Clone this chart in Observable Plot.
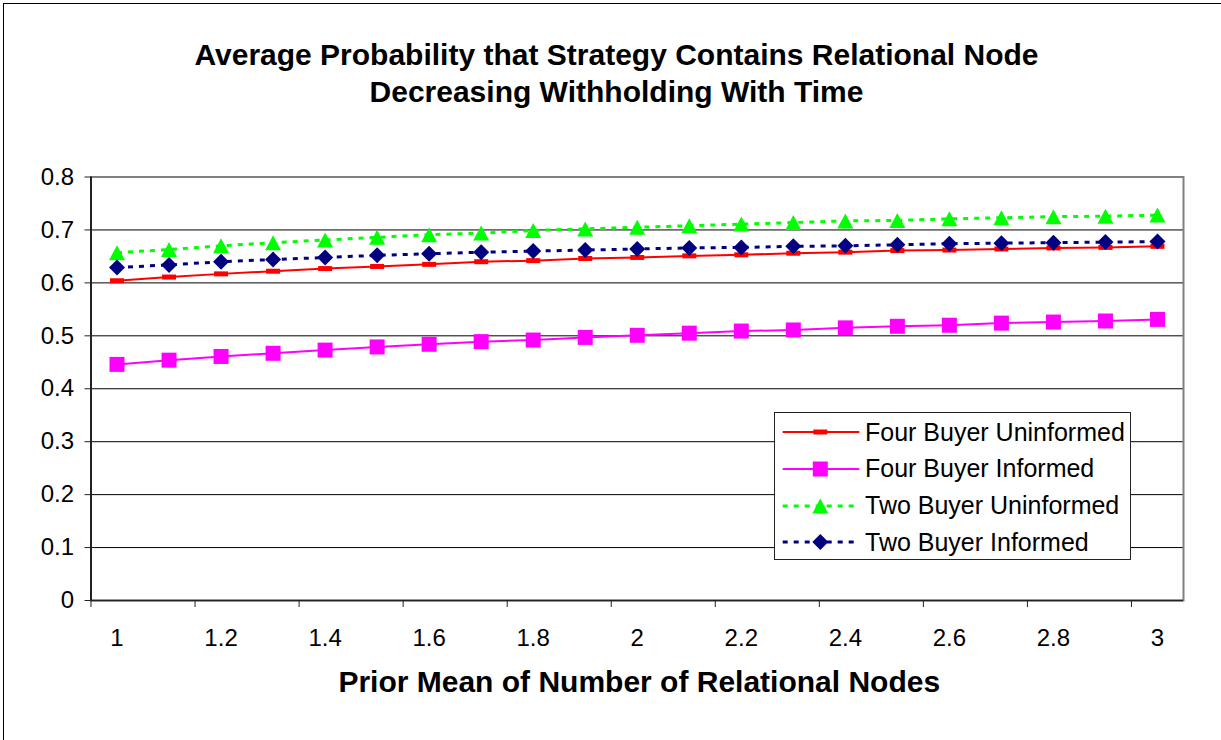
<!DOCTYPE html>
<html><head><meta charset="utf-8">
<script src="https://cdn.jsdelivr.net/npm/d3@7"></script>
<script src="https://cdn.jsdelivr.net/npm/@observablehq/plot@0.6"></script>
<style>
body{margin:0;background:#fff;font-family:"Liberation Sans",Arial,sans-serif;}
#wrap{position:relative;width:1221px;height:740px;overflow:hidden;background:#fff;}
#border{position:absolute;left:3px;top:3px;width:1300px;height:800px;border-top:1.5px solid #000;border-left:1.5px solid #000;pointer-events:none;z-index:5;}
#title{height:128px;box-sizing:border-box;padding-top:36px;padding-left:12px;text-align:center;font-weight:bold;font-size:30px;line-height:37px;color:#000;}
#legend{position:absolute;left:774px;top:412px;width:355px;height:145px;border:1px solid #222;background:#fff;padding-top:1px;box-sizing:content-box;}
.row{display:flex;align-items:center;height:36.67px;font-size:25px;color:#000;}
.row svg{flex:none;}
</style></head><body>
<div id="wrap">
<div id="title">Average Probability that Strategy Contains Relational Node<br>Decreasing Withholding With Time</div>
<div id="chart"></div>
<div id="legend"></div>
<div id="border"></div>
</div>
<script>
// ---- data ----
const xValues = [1.0, 1.1, 1.2, 1.3, 1.4, 1.5, 1.6, 1.7, 1.8, 1.9, 2.0, 2.1, 2.2, 2.3, 2.4, 2.5, 2.6, 2.7, 2.8, 2.9, 3.0];
const xTickLabels = [1, 1.2, 1.4, 1.6, 1.8, 2, 2.2, 2.4, 2.6, 2.8, 3];
const yTicks = [0, 0.1, 0.2, 0.3, 0.4, 0.5, 0.6, 0.7, 0.8];
const seriesNames = ["Four Buyer Uninformed", "Four Buyer Informed", "Two Buyer Uninformed", "Two Buyer Informed"];
const fourUninformed = [0.604, 0.611, 0.617, 0.622, 0.627, 0.631, 0.635, 0.640, 0.642, 0.646, 0.648, 0.651, 0.653, 0.656, 0.658, 0.661, 0.662, 0.664, 0.666, 0.667, 0.669];
const fourInformed = [0.446, 0.454, 0.461, 0.467, 0.473, 0.479, 0.484, 0.489, 0.492, 0.497, 0.501, 0.505, 0.509, 0.511, 0.515, 0.518, 0.520, 0.524, 0.526, 0.528, 0.531];
const twoUninformed = [0.657, 0.663, 0.670, 0.676, 0.681, 0.686, 0.691, 0.694, 0.699, 0.702, 0.705, 0.708, 0.711, 0.714, 0.717, 0.718, 0.721, 0.723, 0.725, 0.726, 0.728];
const twoInformed = [0.629, 0.634, 0.640, 0.644, 0.648, 0.652, 0.655, 0.658, 0.660, 0.662, 0.664, 0.666, 0.667, 0.669, 0.670, 0.672, 0.674, 0.675, 0.676, 0.677, 0.678];
const xLabel = "Prior Mean of Number of Relational Nodes";

// ---- styles ----
const dashSym = {draw(c){ c.moveTo(-7,-2.5); c.lineTo(7,-2.5); c.lineTo(7,2.5); c.lineTo(-7,2.5); c.closePath(); }};
const squareSym = {draw(c){ c.moveTo(-7.5,-7.5); c.lineTo(7.5,-7.5); c.lineTo(7.5,7.5); c.lineTo(-7.5,7.5); c.closePath(); }};
const triSym = {draw(c){ c.moveTo(0,-7.5); c.lineTo(8,7.5); c.lineTo(-8,7.5); c.closePath(); }};
const diamSym = {draw(c){ c.moveTo(0,-8); c.lineTo(8,0); c.lineTo(0,8); c.lineTo(-8,0); c.closePath(); }};
const seriesStyles = [
  {color: "#ff0000", dash: null, width: 2, symbol: dashSym},
  {color: "#ff00ff", dash: null, width: 2, symbol: squareSym},
  {color: "#00ff00", dash: "5,6", width: 3, symbol: triSym},
  {color: "#000080", dash: "5,6", width: 3, symbol: diamSym}
];
const seriesValues = [fourUninformed, fourInformed, twoUninformed, twoInformed];

// ---- derived ----
const half = (xValues[1] - xValues[0]) / 2;
const xDomain = [xValues[0] - half, xValues[xValues.length - 1] + half];
const boundaries = xValues.slice(0, -1).map((v, i) => (v + xValues[i + 1]) / 2).filter((_, i) => i % 2 === 1);
const tickMarks = [xDomain[0], ...boundaries];

const seriesMarks = [];
seriesNames.forEach((name, k) => {
  const s = seriesStyles[k];
  const data = xValues.map((x, i) => ({x, y: seriesValues[k][i], series: name}));
  seriesMarks.push(Plot.line(data, {x: "x", y: "y", stroke: s.color, strokeWidth: s.width, strokeDasharray: s.dash, strokeLinecap: "butt"}));
  seriesMarks.push(Plot.dot(data, {x: "x", y: "y", symbol: s.symbol, fill: s.color, stroke: "none", r: 5}));
});

const chart = Plot.plot({
  width: 1221,
  height: 612,
  marginTop: 48.5,
  marginBottom: 140,
  marginLeft: 90.5,
  marginRight: 38,
  style: {fontFamily: "Liberation Sans, Arial, sans-serif", fontSize: "24px", color: "#000", background: "transparent"},
  x: {type: "linear", domain: xDomain},
  y: {domain: [0, 0.8]},
  marks: [
    Plot.ruleY(yTicks.slice(1, -1), {stroke: "#000", strokeWidth: 1}),
    Plot.frame({stroke: "#808080", strokeWidth: 2}),
    Plot.ruleX([xDomain[0]], {stroke: "#222", strokeWidth: 2}),
    Plot.ruleY([0], {stroke: "#222", strokeWidth: 1.5}),
    Plot.axisY(yTicks, {tickSize: 6, tickPadding: 11, tickFormat: d => String(d), stroke: "#222", label: null}),
    Plot.axisX(tickMarks, {tickSize: 7, tickFormat: () => "", stroke: "#222", label: null}),
    Plot.axisX(xTickLabels, {tickSize: 0, tickPadding: 28, tickFormat: d => String(d), label: null}),
    Plot.text([xLabel], {text: d => d, frameAnchor: "bottom", dy: 91, dx: 2, fontSize: 30, fontWeight: "bold"}),
    ...seriesMarks
  ]
});
document.getElementById("chart").appendChild(chart);

// ---- legend ----
const legend = document.getElementById("legend");
seriesNames.forEach((name, k) => {
  const s = seriesStyles[k];
  const p = d3.path(); s.symbol.draw(p);
  const row = document.createElement("div");
  row.className = "row";
  row.innerHTML = `<svg width="90" height="36" viewBox="0 0 90 36">
    <line x1="7.7" x2="84.3" y1="18" y2="18" stroke="${s.color}" stroke-width="${s.width}" ${s.dash ? `stroke-dasharray="${s.dash}"` : ""}/>
    <path transform="translate(45.3,18)" d="${p.toString()}" fill="${s.color}"/>
  </svg><span>${name}</span>`;
  legend.appendChild(row);
});
</script>
</body></html>
